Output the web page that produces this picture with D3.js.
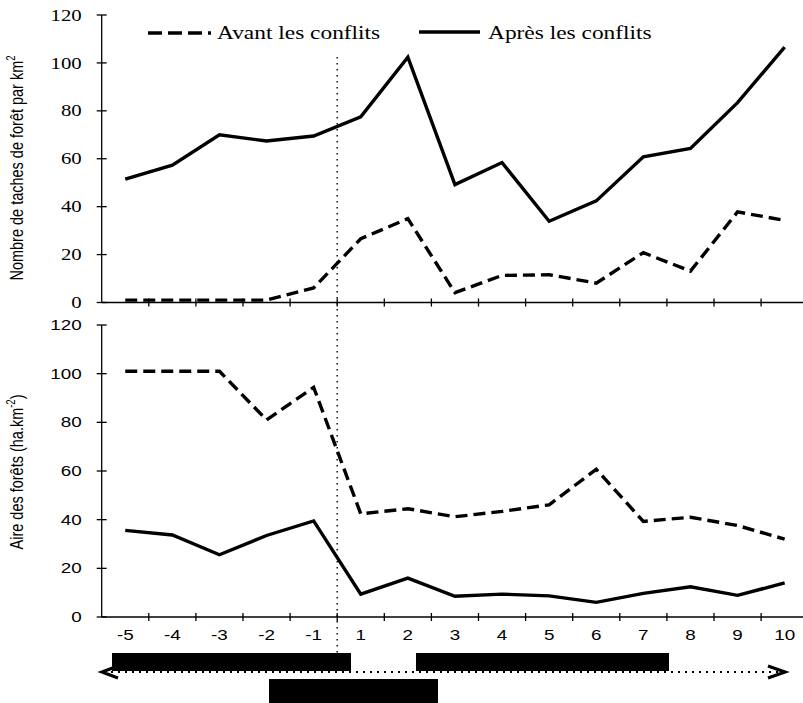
<!DOCTYPE html>
<html>
<head>
<meta charset="utf-8">
<script src="https://cdn.jsdelivr.net/npm/d3@7"></script>
<style>
  html, body { margin: 0; padding: 0; background: #fff; }
  svg { display: block; }
</style>
</head>
<body>
<svg id="chart" width="803" height="703"></svg>
<script>
// Years relative to the conflicts (no year 0)
const years = ['-5', '-4', '-3', '-2', '-1', '1', '2', '3', '4', '5', '6', '7', '8', '9', '10'];

// Forest patches per km²
const patchesBefore = [1, 1, 1, 1, 6.1, 26.6, 35, 4.1, 11.3, 11.6, 8.1, 20.8, 13.1, 37.8, 34.3];
const patchesAfter  = [51.5, 57.3, 70, 67.4, 69.5, 77.5, 102.4, 49.2, 58.4, 33.9, 42.4, 60.8, 64.3, 83.4, 106.6];

// Forest area (ha.km-2)
const areaBefore = [101, 101, 101, 81, 94.4, 42.4, 44.5, 41.2, 43.4, 46.1, 60.7, 39.3, 41.0, 37.6, 32.0];
const areaAfter  = [35.6, 33.7, 25.6, 33.5, 39.5, 9.4, 16.0, 8.5, 9.4, 8.7, 6.0, 9.7, 12.4, 8.9, 14.0];

const yTicks = [0, 20, 40, 60, 80, 100, 120];
const seriesNames = ['Avant les conflits', 'Après les conflits'];

const svg = d3.select('#chart');
const SERIF = '"Liberation Serif", "Times New Roman", serif';
const SANS = '"Liberation Sans", Arial, sans-serif';
const TX = 1.3; // horizontal widening of the lettering

const x = d3.scaleBand().domain(years).range([101.7, 808.2]).paddingInner(0).paddingOuter(0);
const cx = d => x(d) + x.bandwidth() / 2;

const yTop = d3.scaleLinear().domain([0, 120]).range([302.5, 15]);
const yBot = d3.scaleLinear().domain([0, 120]).range([617, 325]);

const DASH = '12,6';

function label(g, tx, ty, text, opts) {
  return g.append('text')
    .attr('transform', `translate(${tx},${ty}) scale(${TX},1)`)
    .attr('text-anchor', opts.anchor || 'start')
    .attr('font-family', opts.family)
    .attr('font-size', opts.size)
    .attr('dy', opts.dy || 0)
    .attr('fill', '#000')
    .text(text);
}

function panel(y, before, after, tickFamily, tickSize, showXLabels) {
  const g = svg.append('g');
  const x0 = x.range()[0];

  // y axis line + crossing ticks
  g.append('line')
    .attr('x1', x0).attr('x2', x0)
    .attr('y1', y(120)).attr('y2', y(0))
    .attr('stroke', '#000').attr('stroke-width', 1.3);
  yTicks.forEach(t => {
    g.append('line')
      .attr('x1', x0 - 5).attr('x2', x0 + 5)
      .attr('y1', y(t)).attr('y2', y(t))
      .attr('stroke', '#000').attr('stroke-width', 1.3);
    label(g, x0 - 20, y(t), String(t), { anchor: 'end', family: tickFamily, size: tickSize, dy: '0.35em' });
  });

  // x axis line + ticks at band boundaries
  g.append('line')
    .attr('x1', x0).attr('x2', x.range()[1])
    .attr('y1', y(0)).attr('y2', y(0))
    .attr('stroke', '#000').attr('stroke-width', 1.3);
  years.slice(1).forEach(d => {
    g.append('line')
      .attr('x1', x(d)).attr('x2', x(d))
      .attr('y1', y(0) - 4).attr('y2', y(0) + 4)
      .attr('stroke', '#000').attr('stroke-width', 1.3);
  });
  if (showXLabels) {
    years.forEach(d => {
      label(g, cx(d), y(0) + 23, d, { anchor: 'middle', family: SANS, size: 14.5 });
    });
  }

  const line = d3.line().x((v, i) => cx(years[i])).y(v => y(v));
  g.append('path').datum(before)
    .attr('d', line).attr('fill', 'none')
    .attr('stroke', '#000').attr('stroke-width', 3.4)
    .attr('stroke-dasharray', DASH);
  g.append('path').datum(after)
    .attr('d', line).attr('fill', 'none')
    .attr('stroke', '#000').attr('stroke-width', 3.4);
  return g;
}

panel(yTop, patchesBefore, patchesAfter, SERIF, 16, false);
panel(yBot, areaBefore, areaAfter, SANS, 14.5, true);

// Onset of conflicts
const xConflict = x('1');
svg.append('line')
  .attr('x1', xConflict).attr('x2', xConflict)
  .attr('y1', 57).attr('y2', 653)
  .attr('stroke', '#000').attr('stroke-width', 1.4)
  .attr('stroke-dasharray', '1.5,4.5');

// Legend
const legend = svg.append('g');
legend.append('line')
  .attr('x1', 148).attr('x2', 211).attr('y1', 33).attr('y2', 33)
  .attr('stroke', '#000').attr('stroke-width', 3.4)
  .attr('stroke-dasharray', '14,6');
label(legend, 217, 39, seriesNames[0], { family: SERIF, size: 18 });
legend.append('line')
  .attr('x1', 419).attr('x2', 480).attr('y1', 32).attr('y2', 32)
  .attr('stroke', '#000').attr('stroke-width', 3.4);
label(legend, 488, 39, seriesNames[1], { family: SERIF, size: 18 });

// Axis titles
function yTitle(cxp, cyp, main, sup, tail) {
  const t = svg.append('text')
    .attr('transform', `translate(${cxp},${cyp}) rotate(-90) scale(1,${TX})`)
    .attr('text-anchor', 'middle')
    .attr('font-family', SANS)
    .attr('font-size', 14.5)
    .attr('fill', '#000');
  t.append('tspan').text(main);
  t.append('tspan').attr('font-size', 9.5).attr('dy', -6).text(sup);
  if (tail) t.append('tspan').attr('dy', 6).text(tail);
}
yTitle(23, 168, 'Nombre de taches de forêt par km', '2', '');
yTitle(23, 472, 'Aire des forêts (ha.km', '-2', ')');

// Timeline below the axis
const timeline = svg.append('g');
const tlY = 672;
timeline.append('line')
  .attr('x1', 104).attr('x2', 784).attr('y1', tlY).attr('y2', tlY)
  .attr('stroke', '#000').attr('stroke-width', 2)
  .attr('stroke-dasharray', '2,5');
timeline.append('path')
  .attr('d', `M118,${tlY - 6} L102,${tlY} L118,${tlY + 6}`)
  .attr('fill', 'none').attr('stroke', '#000').attr('stroke-width', 3.2);
timeline.append('path')
  .attr('d', `M768,${tlY - 6} L785,${tlY} L768,${tlY + 6}`)
  .attr('fill', 'none').attr('stroke', '#000').attr('stroke-width', 3.2);

// Period boxes
const boxes = [
  { x0: 112, x1: 351, y0: 653, y1: 671 },
  { x0: 416, x1: 669, y0: 653, y1: 671 },
  { x0: 269, x1: 438, y0: 679, y1: 703 }
];
timeline.selectAll('rect.box').data(boxes).enter().append('rect')
  .attr('class', 'box')
  .attr('x', d => d.x0).attr('y', d => d.y0)
  .attr('width', d => d.x1 - d.x0).attr('height', d => d.y1 - d.y0)
  .attr('fill', '#000');
</script>
</body>
</html>
